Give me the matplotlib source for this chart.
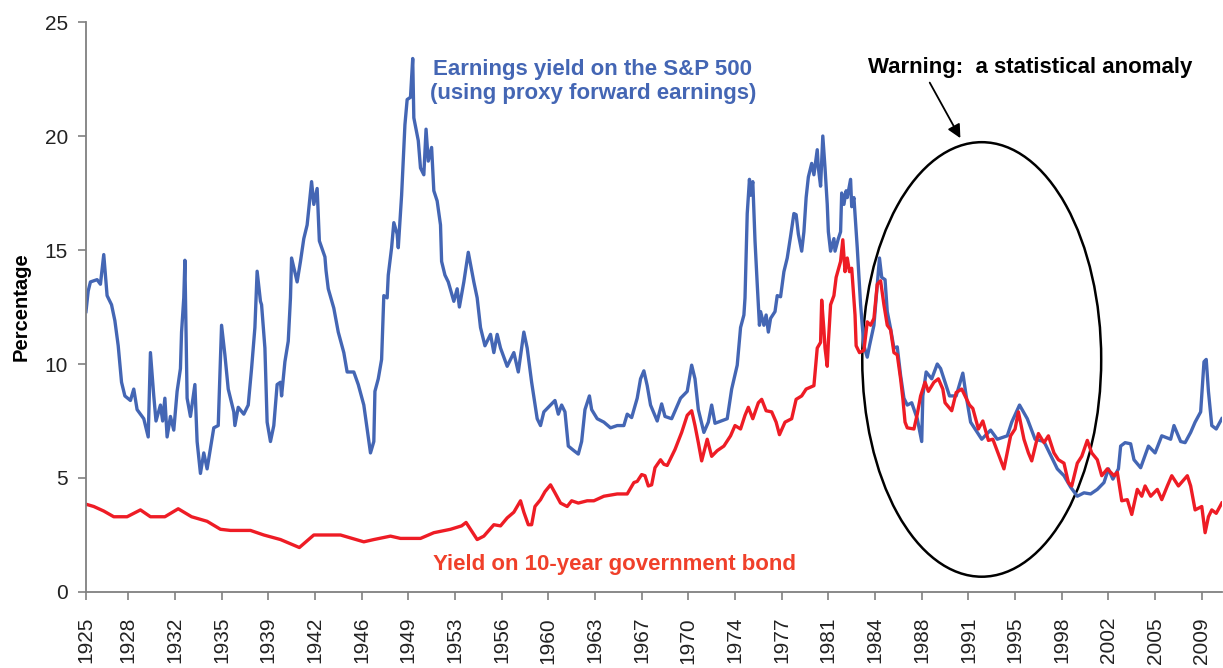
import matplotlib.pyplot as plt
from matplotlib.patches import Ellipse

# months since Jan 1925, value (%)
ey_months = [0, 2, 4, 10, 13, 16, 19, 23, 26, 29, 32, 35, 40, 43, 46, 52, 56, 58, 61, 63,
             67, 69, 71, 73, 76, 79, 82, 85, 86, 88, 89, 91, 94, 98, 100, 103, 106, 109, 112, 115,
             119, 122, 125, 128, 133, 134, 137, 142, 146, 149, 152, 154, 157, 158, 161, 163, 166, 169, 172, 175,
             176, 179, 182, 184, 185, 190, 193, 196, 199, 203, 205, 208, 210, 215, 216, 218, 223, 227, 232, 235,
             241, 245, 250, 253, 256, 259, 260, 263, 266, 268, 271, 272, 275, 277, 280, 281, 284, 287, 289, 292,
             294, 295, 299, 301, 304, 306, 308, 311, 313, 316, 319, 320, 323, 326, 331, 334, 336, 340, 344, 349,
             352, 355, 359, 364, 367, 370, 373, 379, 382, 385, 389, 394, 397, 401, 406, 409, 412, 418, 422, 425,
             428, 431, 434, 439, 443, 446, 449, 453, 455, 460, 466, 472, 478, 484, 487, 491, 496, 499, 502, 505,
             508, 514, 518, 521, 527, 535, 541, 545, 548, 551, 556, 560, 563, 566, 577, 581, 586, 589, 592, 593,
             595, 597, 598, 600, 602, 604, 606, 607, 610, 612, 614, 616, 620, 622, 625, 628, 631, 634, 637, 639,
             641, 644, 646, 648, 650, 653, 655, 658, 659, 661, 663, 665, 667, 668, 670, 673, 674, 677, 679, 680,
             682, 684, 685, 688, 689, 691, 694, 697, 700, 703, 705, 709, 712, 714, 716, 719, 721, 724, 727, 730,
             733, 736, 739, 743, 748, 752, 753, 756, 761, 766, 769, 771, 777, 783, 789, 792, 796, 802, 806, 814,
             820, 829, 833, 840, 847, 854, 862, 868, 874, 880, 886, 892, 898, 904, 910, 916, 920, 924, 929, 931,
             935, 940, 943, 949, 956, 962, 968, 976, 979, 985, 989, 994, 998, 1003, 1006, 1008, 1010, 1013, 1017, 1022]
ey_values = [12.3, 13.2, 13.6, 13.7, 13.5, 14.8, 13.0, 12.6, 11.9, 10.8, 9.2, 8.6, 8.4, 8.9, 8.0, 7.6, 6.8, 10.5, 8.6, 7.5,
             8.2, 7.5, 8.5, 6.8, 7.7, 7.1, 8.8, 9.8, 11.4, 12.9, 14.55, 8.5, 7.7, 9.1, 6.6, 5.2, 6.1, 5.4, 6.3, 7.2,
             7.3, 11.7, 10.4, 8.9, 7.9, 7.3, 8.1, 7.8, 8.2, 9.8, 11.6, 14.07, 12.75, 12.6, 10.7, 7.45, 6.6, 7.3, 9.1, 9.2,
             8.6, 10.1, 11.0, 12.9, 14.65, 13.6, 14.5, 15.5, 16.1, 18.0, 17.0, 17.7, 15.4, 14.7, 14.1, 13.3, 12.45, 11.4, 10.5, 9.65,
             9.65, 9.1, 8.2, 7.15, 6.1, 6.6, 8.8, 9.35, 10.2, 13.0, 12.9, 13.9, 15.1, 16.2, 15.7, 15.1, 17.4, 20.5, 21.6, 21.7,
             23.4, 20.8, 19.8, 18.6, 18.3, 20.3, 18.9, 19.5, 17.6, 17.15, 16.1, 14.5, 13.9, 13.6, 12.75, 13.3, 12.5, 13.6, 14.9, 13.6,
             12.9, 11.6, 10.8, 11.3, 10.5, 11.3, 10.7, 9.9, 10.2, 10.5, 9.65, 11.4, 10.7, 9.2, 7.6, 7.3, 7.9, 8.2, 8.4, 7.8,
             8.2, 7.9, 6.4, 6.2, 6.05, 6.6, 8.0, 8.6, 8.0, 7.6, 7.45, 7.2, 7.3, 7.3, 7.8, 7.65, 8.5, 9.35, 9.7, 9.05,
             8.2, 7.5, 8.25, 7.7, 7.6, 8.5, 8.8, 9.95, 9.35, 8.0, 7.0, 7.45, 8.2, 7.4, 7.6, 8.9, 9.95, 11.6, 12.15, 12.9,
             16.6, 18.1, 17.4, 18.0, 15.4, 13.5, 11.7, 12.3, 11.7, 12.15, 11.4, 12.0, 12.3, 13.0, 12.95, 14.05, 14.65, 15.6, 16.6, 16.55,
             15.7, 14.95, 15.8, 17.3, 18.2, 18.8, 18.3, 19.4, 18.6, 17.8, 20.0, 18.6, 17.0, 15.8, 14.95, 15.5, 14.95, 15.5, 15.8, 17.5,
             17.0, 17.6, 17.3, 18.1, 16.9, 17.3, 15.1, 12.6, 10.8, 10.3, 10.8, 11.7, 13.5, 14.65, 13.8, 13.7, 12.3, 11.55, 10.7, 10.75,
             9.5, 8.5, 8.2, 8.3, 7.6, 6.6, 8.6, 9.65, 9.35, 10.0, 9.8, 9.5, 8.6, 8.6, 9.6, 8.6, 7.45, 7.0, 6.7, 7.1,
             6.7, 6.85, 7.45, 8.2, 7.6, 6.7, 6.6, 6.0, 5.4, 5.1, 4.6, 4.2, 4.35, 4.3, 4.5, 4.8, 5.4, 4.95, 5.4, 6.4,
             6.55, 6.5, 5.8, 5.45, 6.4, 6.1, 6.85, 6.7, 7.3, 6.6, 6.55, 7.0, 7.45, 7.9, 10.1, 10.2, 8.8, 7.3, 7.15, 7.6]

bond_months = [0, 7, 16, 25, 37, 49, 58, 71, 83, 95, 109, 121, 130, 148, 160, 175, 192, 205, 229, 250,
               259, 274, 283, 301, 313, 328, 338, 342, 346, 352, 358, 367, 373, 379, 385, 391, 394, 398, 401, 404,
               409, 413, 418, 422, 427, 433, 437, 443, 451, 457, 466, 478, 487, 493, 496, 500, 503, 506, 509, 512,
               517, 520, 523, 530, 536, 541, 545, 548, 551, 554, 559, 563, 568, 574, 580, 584, 589, 593, 596, 600,
               605, 608, 612, 617, 621, 624, 629, 635, 639, 644, 648, 655, 658, 661, 662, 664, 665, 667, 668, 670,
               673, 675, 679, 681, 683, 685, 687, 689, 690, 692, 693, 696, 700, 703, 706, 709, 712, 715, 718, 721,
               724, 727, 730, 733, 735, 737, 739, 745, 748, 751, 755, 758, 763, 767, 771, 773, 779, 783, 788, 791,
               795, 798, 803, 807, 812, 816, 821, 826, 832, 836, 839, 844, 848, 851, 857, 862, 866, 871, 875, 880,
               884, 887, 892, 896, 901, 905, 910, 914, 919, 925, 928, 932, 937, 941, 946, 950, 953, 958, 964, 968,
               973, 977, 983, 991, 994, 998, 1004, 1007, 1010, 1013, 1017, 1022]
bond_values = [3.85, 3.75, 3.55, 3.3, 3.3, 3.6, 3.3, 3.3, 3.65, 3.3, 3.1, 2.75, 2.7, 2.7, 2.5, 2.3, 1.95, 2.5, 2.5, 2.2,
               2.3, 2.45, 2.35, 2.35, 2.6, 2.75, 2.9, 3.05, 2.75, 2.3, 2.45, 2.95, 2.9, 3.25, 3.5, 4.0, 3.5, 2.95, 2.95, 3.75,
               4.05, 4.4, 4.7, 4.35, 3.9, 3.75, 4.0, 3.9, 4.0, 4.0, 4.2, 4.3, 4.3, 4.8, 4.85, 5.15, 5.1, 4.65, 4.7, 5.45,
               5.8, 5.6, 5.55, 6.25, 7.0, 7.75, 7.95, 7.3, 6.55, 5.75, 6.7, 5.95, 6.2, 6.4, 6.85, 7.3, 7.15, 7.75, 8.1, 7.6,
               8.3, 8.45, 7.95, 7.9, 7.45, 6.9, 7.45, 7.6, 8.45, 8.6, 8.9, 9.05, 10.7, 10.95, 12.8, 11.5, 10.7, 9.9, 10.95, 12.6,
               13.0, 13.8, 14.5, 15.45, 14.05, 14.65, 14.05, 14.2, 13.5, 12.15, 10.8, 10.5, 10.6, 11.85, 11.7, 12.0, 13.5, 13.65, 12.6, 11.7,
               11.5, 10.5, 10.4, 9.35, 8.5, 7.45, 7.2, 7.15, 7.8, 8.6, 9.2, 8.8, 9.2, 9.35, 8.9, 8.3, 7.95, 8.75, 8.9, 8.6,
               8.2, 8.05, 7.15, 7.5, 6.65, 6.7, 6.05, 5.4, 6.85, 7.15, 7.9, 6.7, 6.1, 5.75, 6.95, 6.55, 6.85, 6.1, 5.8, 5.65,
               4.8, 4.65, 5.65, 5.95, 6.65, 6.1, 5.8, 5.1, 5.4, 5.1, 5.25, 4.0, 4.05, 3.4, 4.5, 4.2, 4.65, 4.2, 4.5, 4.05,
               4.65, 5.1, 4.65, 5.1, 4.65, 3.6, 3.75, 2.6, 3.3, 3.6, 3.45, 3.9]

tick_labels = ['1925', '1928', '1932', '1935', '1939', '1942', '1946', '1949', '1953', '1956',
               '1960', '1963', '1967', '1970', '1974', '1977', '1981', '1984', '1988', '1991',
               '1995', '1998', '2002', '2005', '2009']
tick_months = [0] + [38 + 42 * k for k in range(len(tick_labels) - 1)]

blue = '#4466B4'
red = '#EE1C25'
grey = '#808080'

plt.rcParams['font.family'] = ['Liberation Sans', 'DejaVu Sans']

fig = plt.figure(figsize=(12.23, 6.68), dpi=100)
ax = fig.add_axes([0.0703, 0.1138, 0.9287, 0.8532])

ax.plot(ey_months, ey_values, color=blue, lw=2.4, solid_joinstyle='round')
ax.plot(bond_months, bond_values, color=red, lw=2.4, solid_joinstyle='round')

ax.set_xlim(0, 1022)
ax.set_ylim(0, 25)
ax.set_yticks([0, 5, 10, 15, 20, 25])
ax.set_xticks(tick_months)
ax.set_xticklabels(tick_labels, rotation=90)

for side in ['top', 'right']:
    ax.spines[side].set_visible(False)
for side in ['left', 'bottom']:
    ax.spines[side].set_color(grey)
    ax.spines[side].set_linewidth(1.3)
ax.tick_params(axis='both', colors=grey, labelcolor='#222222', labelsize=15, length=6, width=1.2)
ax.tick_params(axis='x', pad=12)
ax.tick_params(axis='y', pad=7)
ax.set_ylabel('Percentage', fontsize=14.5, fontweight='bold', labelpad=10)

ax.text(456, 22.4, 'Earnings yield on the S&P 500\n(using proxy forward earnings)',
        color=blue, fontsize=16, fontweight='bold', ha='center', va='center', linespacing=1.2)
ax.text(476, 1.2, 'Yield on 10-year government bond', color='#F0402A',
        fontsize=16, fontweight='bold', ha='center', va='center')
ax.text(850, 23.0, 'Warning:  a statistical anomaly', color='black',
        fontsize=16, fontweight='bold', ha='center', va='center')
ax.annotate('', xy=(788, 19.8), xytext=(758, 22.45),
            arrowprops=dict(arrowstyle='-|>', color='black', lw=1.3, mutation_scale=20))
ax.add_patch(Ellipse((806, 10.2), 215, 19.06, fill=False, edgecolor='black', lw=1.8))

fig.savefig('out.png', dpi=100)
